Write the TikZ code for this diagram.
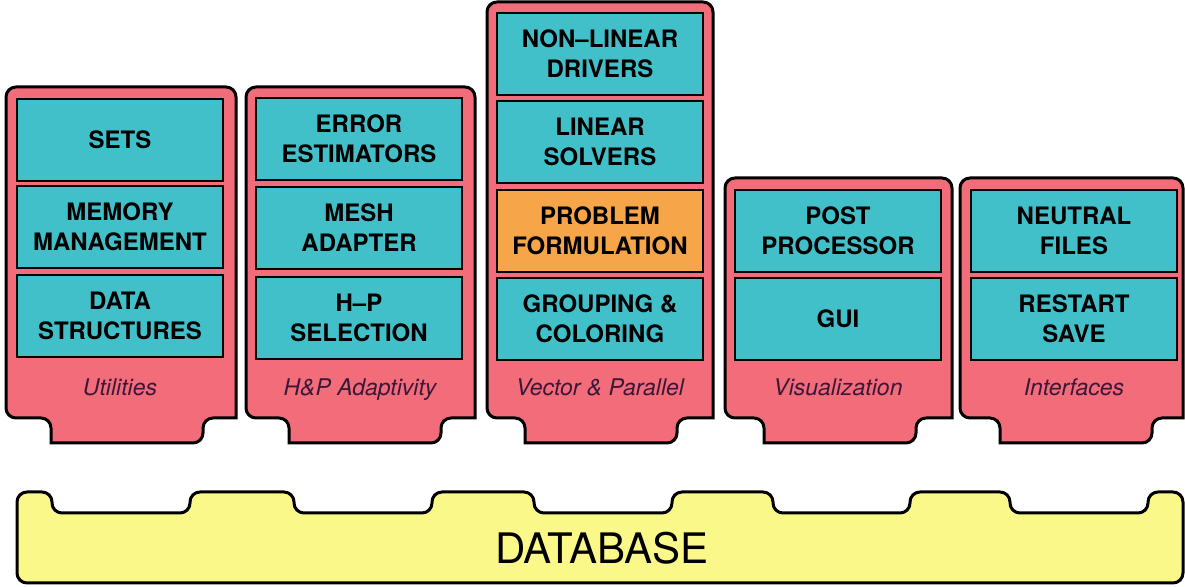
\documentclass[tikz,border=0pt]{standalone}
\usepackage{fontspec}
\setmainfont{TeX Gyre Heros}
\definecolor{shellpink}{RGB}{242,108,122}
\definecolor{unitcyan}{RGB}{66,192,202}
\definecolor{unitorange}{RGB}{246,166,72}
\definecolor{baseyellow}{RGB}{250,248,136}
\definecolor{captext}{RGB}{60,24,56}
\tikzset{
  shell/.style={draw, line width=1.5pt, fill=shellpink},
  unit/.style={draw, line width=1.4pt, fill=unitcyan, minimum width=103pt,
    minimum height=41pt, inner sep=0pt, align=center,
    font=\fontsize{12}{15}\selectfont\bfseries},
  modname/.style={anchor=base, font=\fontsize{11.5}{14}\selectfont\itshape, text=captext},
  base/.style={draw, line width=1.5pt, fill=baseyellow, rounded corners=5pt}
}

\begin{document}
\begin{tikzpicture}[x=0.5pt, y=-0.5pt]
\useasboundingbox (0,0) rectangle (1185,587);

\foreach \l/\r/\t/\c in {6/236/87/127, 246/475/87/365, 487/713/2/601, 725/952/178/840, 960/1183/178/1076}
  \draw[shell] ({(\l+\r)/2},\t) [rounded corners=5pt] -- (\l,\t) -- (\l,418) -- ({\c-76},418)
    [sharp corners] -- ({\c-76},443) [rounded corners=5pt] -- ({\c+76},443) -- ({\c+76},418)
    [sharp corners] -- (\r,418) [rounded corners=5pt] -- (\r,\t) -- cycle;

\node[unit] (sets) at (120,140) {SETS};
\node[unit] (memory) at (120,227) {MEMORY\\MANAGEMENT};
\node[unit] (data) at (120,316) {DATA\\STRUCTURES};
\node[modname] (util) at (120,396) {Utilities};

\node[unit] (error) at (359,139) {ERROR\\ESTIMATORS};
\node[unit] (mesh) at (359,228) {MESH\\ADAPTER};
\node[unit] (hp) at (359,318) {H--P\\SELECTION};
\node[modname] (adapt) at (360,396) {H\&P Adaptivity};

\node[unit] (nonlin) at (600,54) {NON--LINEAR\\DRIVERS};
\node[unit] (linear) at (600,142) {LINEAR\\SOLVERS};
\node[unit, fill=unitorange] (problem) at (600,231) {PROBLEM\\FORMULATION};
\node[unit] (grouping) at (600,319) {GROUPING \&\\COLORING};
\node[modname] (vecpar) at (600,396) {Vector \& Parallel};

\node[unit] (post) at (838,231) {POST\\PROCESSOR};
\node[unit] (gui) at (838,319) {GUI};
\node[modname] (vis) at (838,396) {Visualization};

\node[unit] (neutral) at (1074,231) {NEUTRAL\\FILES};
\node[unit] (restart) at (1074,319) {RESTART\\SAVE};
\node[modname] (iface) at (1074,396) {Interfaces};

\draw[base] (600,583) -- (17,583) -- (17,492) -- (52,492) -- (52,513) -- (190,513) -- (190,492)
  -- (294,492) -- (294,513) -- (432,513) -- (432,492) -- (534,492) -- (534,513) -- (672,513)
  -- (672,492) -- (773,492) -- (773,513) -- (910,513) -- (910,492) -- (1010,492) -- (1010,513)
  -- (1148,513) -- (1148,492) -- (1183,492) -- (1183,583) -- cycle;
\node[font=\fontsize{21}{25}\selectfont] (db) at (602,548) {DATABASE};
\end{tikzpicture}
\end{document}
